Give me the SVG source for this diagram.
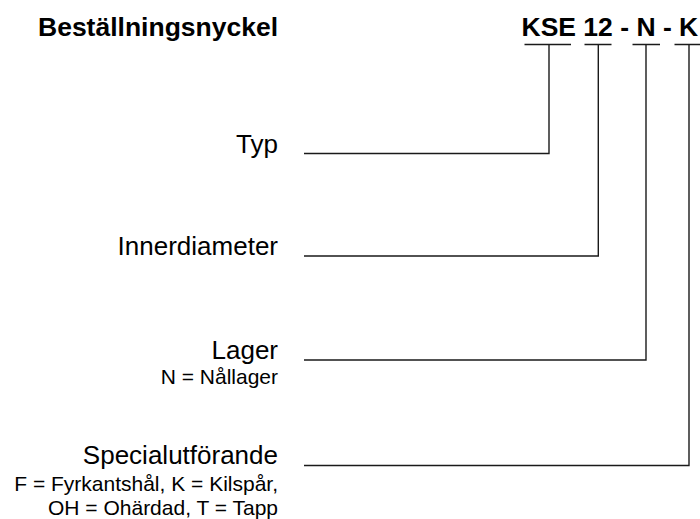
<svg xmlns="http://www.w3.org/2000/svg" width="700" height="519" viewBox="0 0 700 519">
<style>
.t{font-family:"Liberation Sans",Arial,sans-serif;fill:#000}
.b{font-weight:bold;font-size:26.5px}
.m{font-size:26px;text-anchor:end}
.s{font-size:21px;text-anchor:end}
.c{fill:none;stroke:#1a1a1a;stroke-width:1.4}
</style>
<rect width="700" height="519" fill="#fff"/>
<g id="title"><text class="t b" x="38" y="36">Beställningsnyckel</text></g>
<g id="code"><text class="t b" x="521.5" y="36">KSE 12 - N - K</text></g>
<g id="typ"><text class="t m" x="278" y="153">Typ</text></g>
<g id="innerdiameter"><text class="t m" x="278" y="255">Innerdiameter</text></g>
<g id="lager"><text class="t m" x="278" y="358.5">Lager</text><text class="t s" x="278" y="383.5">N = Nållager</text></g>
<g id="special"><text class="t m" x="278" y="463.5">Specialutförande</text><text class="t s" x="278" y="490.5">F = Fyrkantshål, K = Kilspår,</text><text class="t s" x="278" y="514.5">OH = Ohärdad, T = Tapp</text></g>
<g id="connectors">
<path class="c" d="M524.5 44.5H571M549 44.5V153.5H304"/>
<path class="c" d="M584.5 44.5H611.5M598.3 44.5V256H304"/>
<path class="c" d="M632.5 44.5H660M646 44.5V360H304"/>
<path class="c" d="M674.5 44.5H700M689 44.5V465.5H304"/>
</g>
</svg>
